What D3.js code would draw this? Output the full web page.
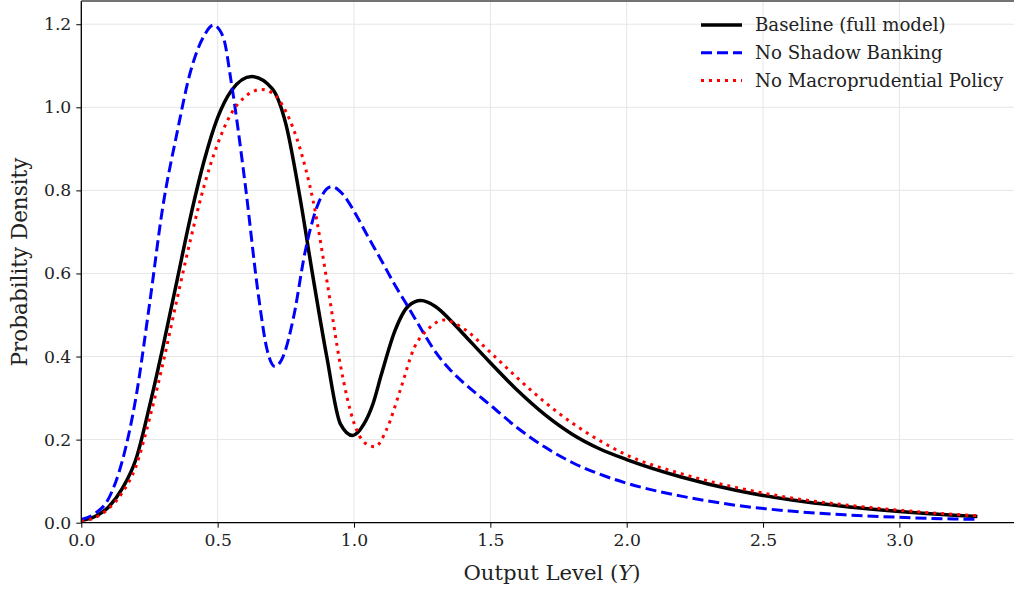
<!DOCTYPE html>
<html><head><meta charset="utf-8">
<script src="https://cdn.jsdelivr.net/npm/d3@7"></script>
<style>
html,body{margin:0;padding:0;background:#fff;}
svg{display:block;}
text{font-family:"DejaVu Serif",serif;fill:#222;}
</style></head>
<body>
<svg id="c" width="1014" height="592"></svg>
<script>
// Baseline (full model)
const baselineX = [0,0.05,0.1,0.15,0.2,0.25,0.3,0.35,0.4,0.45,0.5,0.55,0.625,0.7,0.75,0.8,0.85,0.9,0.95,0.995,1.035,1.07,1.1,1.15,1.2,1.245,1.3,1.35,1.4,1.5,1.6,1.7,1.8,1.9,2.0,2.2,2.4,2.6,2.8,3.0,3.2,3.286];
const baselineY = [0.005,0.015,0.038,0.082,0.152,0.28,0.425,0.58,0.735,0.87,0.975,1.04,1.074,1.045,0.96,0.79,0.59,0.40,0.238,0.21,0.236,0.287,0.356,0.462,0.522,0.535,0.52,0.49,0.455,0.385,0.318,0.26,0.213,0.178,0.152,0.11,0.078,0.055,0.039,0.027,0.018,0.015];
// No Shadow Banking
const noShadowX = [0,0.05,0.1,0.15,0.2,0.25,0.3,0.35,0.4,0.45,0.484,0.52,0.55,0.6,0.65,0.68,0.71,0.74,0.78,0.82,0.87,0.918,0.96,1.0,1.05,1.1,1.15,1.2,1.25,1.3,1.35,1.4,1.45,1.5,1.6,1.7,1.8,1.9,2.0,2.2,2.4,2.6,2.8,3.0,3.2,3.286];
const noShadowY = [0.008,0.022,0.058,0.148,0.30,0.525,0.765,0.935,1.085,1.172,1.198,1.17,1.06,0.82,0.545,0.42,0.376,0.40,0.50,0.65,0.77,0.809,0.79,0.75,0.69,0.632,0.572,0.518,0.462,0.41,0.37,0.338,0.31,0.283,0.228,0.182,0.145,0.117,0.095,0.064,0.042,0.028,0.019,0.013,0.009,0.008];
// No Macroprudential Policy
const noMacroX = [0,0.05,0.1,0.15,0.2,0.25,0.3,0.35,0.4,0.45,0.5,0.55,0.6,0.66,0.7,0.75,0.8,0.85,0.9,0.95,1.0,1.04,1.077,1.12,1.17,1.22,1.27,1.33,1.4,1.5,1.6,1.7,1.8,1.9,2.0,2.2,2.4,2.6,2.8,3.0,3.2,3.286];
const noMacroY = [0.003,0.012,0.034,0.072,0.135,0.25,0.385,0.535,0.68,0.81,0.912,0.985,1.025,1.043,1.035,0.99,0.905,0.775,0.585,0.38,0.24,0.192,0.183,0.225,0.32,0.42,0.465,0.488,0.468,0.41,0.348,0.29,0.24,0.198,0.163,0.118,0.085,0.06,0.043,0.03,0.02,0.017];

const seriesNames = ["Baseline (full model)","No Shadow Banking","No Macroprudential Policy"];
const xTicks = [0,0.5,1.0,1.5,2.0,2.5,3.0];
const yTicks = [0,0.2,0.4,0.6,0.8,1.0,1.2];

const svg = d3.select("#c");
const L = 81.3, R = 1014, T = 1, B = 522.7;
const x = d3.scaleLinear().domain([0, (R - L) / 272.7]).range([L, R]);
const y = d3.scaleLinear().domain([0, (B - T) / 415.4]).range([B, T]);

svg.append("defs").append("clipPath").attr("id","clip")
  .append("rect").attr("x",L).attr("y",T).attr("width",R-L).attr("height",B-T);

// grid
const g = svg.append("g");
g.selectAll(".gx").data(xTicks).join("line")
  .attr("x1",d=>x(d)).attr("x2",d=>x(d)).attr("y1",T).attr("y2",B)
  .attr("stroke","#e6e6e6").attr("stroke-width",1);
g.selectAll(".gy").data(yTicks).join("line")
  .attr("x1",L).attr("x2",R).attr("y1",d=>y(d)).attr("y2",d=>y(d))
  .attr("stroke","#e6e6e6").attr("stroke-width",1);

const data = [
  {name:seriesNames[0], xs:baselineX, ys:baselineY, color:"#000000", dash:null, w:3.5},
  {name:seriesNames[1], xs:noShadowX, ys:noShadowY, color:"#0000ff", dash:"11,5", w:3},
  {name:seriesNames[2], xs:noMacroX, ys:noMacroY, color:"#ff0000", dash:"3,5", w:3}
];
const line = d3.line().x(d=>x(d[0])).y(d=>y(d[1])).curve(d3.curveMonotoneX);
const plot = svg.append("g").attr("clip-path","url(#clip)");
data.forEach(s=>{
  plot.append("path")
    .datum(s.xs.map((v,i)=>[v,s.ys[i]]))
    .attr("d",line).attr("fill","none")
    .attr("stroke",s.color).attr("stroke-width",s.w)
    .attr("stroke-dasharray",s.dash).attr("stroke-linecap","butt")
    .attr("stroke-linejoin","round");
});

// axes
const xAxis = d3.axisBottom(x).tickValues(xTicks).tickFormat(d3.format(".1f")).tickSize(5).tickPadding(4);
const yAxis = d3.axisLeft(y).tickValues(yTicks).tickFormat(d3.format(".1f")).tickSize(5).tickPadding(5);
const gx = svg.append("g").attr("transform",`translate(0,${B})`).call(xAxis);
const gy = svg.append("g").attr("transform",`translate(${L},0)`).call(yAxis);
[gx,gy].forEach(a=>{
  a.select(".domain").remove();
  a.selectAll(".tick line").attr("stroke","#000").attr("stroke-width",1);
  a.selectAll(".tick text").attr("font-family","DejaVu Serif").attr("font-size",17.2).attr("fill","#222");
});
gx.selectAll(".tick text").attr("dy","0.85em");
// spines
svg.append("line").attr("x1",L).attr("x2",R).attr("y1",B).attr("y2",B).attr("stroke","#000").attr("stroke-width",1.3);
svg.append("line").attr("x1",L).attr("x2",L).attr("y1",T).attr("y2",B).attr("stroke","#000").attr("stroke-width",1.3);
svg.append("line").attr("x1",L).attr("x2",R).attr("y1",T).attr("y2",T).attr("stroke","#444").attr("stroke-width",1.6);

// labels
svg.append("text").attr("x",552).attr("y",580).attr("text-anchor","middle")
  .attr("font-size",21.2).html('Output Level (<tspan font-style="italic">Y</tspan>)');
svg.append("text").attr("transform","translate(27,262) rotate(-90)").attr("text-anchor","middle")
  .attr("font-size",21.5).text("Probability Density");

// legend
const lg = svg.append("g");
data.forEach((s,i)=>{
  const yy = 25 + i*27.8;
  lg.append("line").attr("x1",701).attr("x2",742).attr("y1",yy).attr("y2",yy)
    .attr("stroke",s.color).attr("stroke-width",s.w).attr("stroke-dasharray",s.dash);
  lg.append("text").attr("x",755).attr("y",yy).attr("dy","0.35em").attr("font-size",18.2).text(s.name);
});
</script>
</body></html>
